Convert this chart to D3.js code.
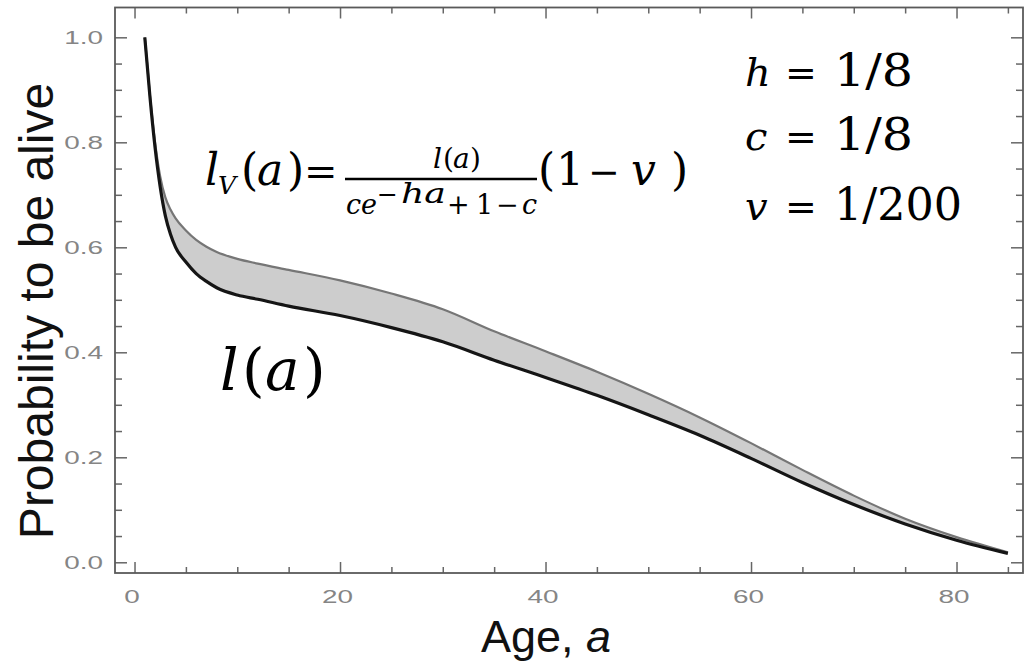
<!DOCTYPE html>
<html>
<head>
<meta charset="utf-8">
<script src="https://cdn.jsdelivr.net/npm/d3@7"></script>
<style>
  body { margin: 0; background: #fff; }
  svg { display: block; }
</style>
</head>
<body>
<div id="chart"></div>
<script>
// ages, with l(a) (black) and l_V(a) (grey upper edge)
const ages = [1, 1.5, 2, 2.5, 3, 3.5, 4, 5, 6, 7, 8, 10, 12, 15, 20, 25, 30, 35, 40, 45, 50, 55, 60, 65, 70, 75, 80, 85];
const survival = [1.0, 0.887, 0.79, 0.715, 0.66, 0.625, 0.60, 0.572, 0.550, 0.535, 0.523, 0.509, 0.501, 0.488, 0.470, 0.447, 0.420, 0.385, 0.352, 0.318, 0.281, 0.242, 0.198, 0.152, 0.110, 0.073, 0.042, 0.017];
const survivalV = [1.0, 0.89, 0.80, 0.735, 0.695, 0.672, 0.655, 0.632, 0.614, 0.601, 0.591, 0.578, 0.569, 0.557, 0.537, 0.512, 0.482, 0.440, 0.402, 0.363, 0.321, 0.276, 0.227, 0.176, 0.127, 0.083, 0.048, 0.019];

const xMajorTicks = [0, 20, 40, 60, 80];
const xMinorTicks = [5, 10, 15, 25, 30, 35, 45, 50, 55, 65, 70, 75, 85];
const yMajorTicks = [0, 0.2, 0.4, 0.6, 0.8, 1.0];
const yMinorTicks = [0.05, 0.1, 0.15, 0.25, 0.3, 0.35, 0.45, 0.5, 0.55, 0.65, 0.7, 0.75, 0.85, 0.9, 0.95];

const width = 1027, height = 663;
const frame = { left: 115, right: 1023, top: 7.5, bottom: 573 };
const labelStretch = 1.55; // tick labels in the original look stretched sideways

const svg = d3.select('#chart').append('svg')
    .attr('width', width)
    .attr('height', height);

const x = d3.scaleLinear().domain([-1.9, 86.47]).range([frame.left, frame.right]);
const y = d3.scaleLinear().domain([-0.0204, 1.0568]).range([frame.bottom, frame.top]);

const data = ages.map((a, i) => ({ a: a, l: survival[i], lv: survivalV[i] }));

// band between the two curves
const band = d3.area()
    .x(d => x(d.a))
    .y0(d => y(d.l))
    .y1(d => y(d.lv))
    .curve(d3.curveMonotoneX);

svg.append('path')
    .datum(data)
    .attr('d', band)
    .attr('fill', '#cdcdcd');

const upper = d3.line().x(d => x(d.a)).y(d => y(d.lv)).curve(d3.curveMonotoneX);
const lower = d3.line().x(d => x(d.a)).y(d => y(d.l)).curve(d3.curveMonotoneX);

svg.append('path').datum(data)
    .attr('d', upper)
    .attr('fill', 'none')
    .attr('stroke', '#767676')
    .attr('stroke-width', 2.2);

svg.append('path').datum(data)
    .attr('d', lower)
    .attr('fill', 'none')
    .attr('stroke', '#151515')
    .attr('stroke-width', 3.2);

// frame + ticks (Mathematica style, ticks pointing in on all four sides)
const tickColor = '#666';
function styleAxis(g) {
    g.select('.domain').remove();
    g.selectAll('.tick line').attr('stroke', tickColor).attr('stroke-width', 1.5);
    g.selectAll('.tick text')
        .attr('fill', '#858585')
        .style('font-family', '"Liberation Sans", Arial, sans-serif')
        .style('font-size', '18px');
}

svg.append('g').attr('transform', `translate(0,${frame.bottom})`)
    .call(d3.axisBottom(x).tickValues(xMajorTicks).tickSize(-11).tickPadding(17).tickFormat(d3.format('d')))
    .call(styleAxis)
    .selectAll('.tick text')
    .attr('dx', -3 / labelStretch)
    .attr('transform', `scale(${labelStretch},1)`);
svg.append('g').attr('transform', `translate(0,${frame.bottom})`)
    .call(d3.axisBottom(x).tickValues(xMinorTicks).tickSize(-6).tickFormat(''))
    .call(styleAxis);
svg.append('g').attr('transform', `translate(0,${frame.top})`)
    .call(d3.axisTop(x).tickValues(xMajorTicks).tickSize(-11).tickFormat(''))
    .call(styleAxis);
svg.append('g').attr('transform', `translate(0,${frame.top})`)
    .call(d3.axisTop(x).tickValues(xMinorTicks).tickSize(-6).tickFormat(''))
    .call(styleAxis);

svg.append('g').attr('transform', `translate(${frame.left},0)`)
    .call(d3.axisLeft(y).tickValues(yMajorTicks).tickSize(-12).tickPadding(12).tickFormat(d3.format('.1f')))
    .call(styleAxis)
    .selectAll('.tick text')
    .attr('x', -12 / labelStretch)
    .attr('transform', `scale(${labelStretch},1)`);
svg.append('g').attr('transform', `translate(${frame.left},0)`)
    .call(d3.axisLeft(y).tickValues(yMinorTicks).tickSize(-7).tickFormat(''))
    .call(styleAxis);
svg.append('g').attr('transform', `translate(${frame.right},0)`)
    .call(d3.axisRight(y).tickValues(yMajorTicks).tickSize(-12).tickFormat(''))
    .call(styleAxis);
svg.append('g').attr('transform', `translate(${frame.right},0)`)
    .call(d3.axisRight(y).tickValues(yMinorTicks).tickSize(-7).tickFormat(''))
    .call(styleAxis);

svg.append('rect')
    .attr('x', frame.left).attr('y', frame.top)
    .attr('width', frame.right - frame.left)
    .attr('height', frame.bottom - frame.top)
    .attr('fill', 'none')
    .attr('stroke', '#5a5a5a')
    .attr('stroke-width', 1.8);

// axis titles
const sans = '"Liberation Sans", Arial, sans-serif';
svg.append('text')
    .attr('transform', 'translate(53,311) rotate(-90)')
    .attr('text-anchor', 'middle')
    .style('font-family', sans)
    .style('font-size', '48px')
    .attr('fill', '#111')
    .text('Probability to be alive');

const xt = svg.append('text')
    .attr('x', 546).attr('y', 652)
    .attr('text-anchor', 'middle')
    .style('font-family', sans)
    .style('font-size', '45px')
    .attr('fill', '#111');
xt.append('tspan').text('Age, ');
xt.append('tspan').style('font-style', 'italic').text('a');

// math annotations
const serif = '"DejaVu Serif", "Liberation Serif", serif';
function glyph(px, py, str, size, italic, span) {
    const t = svg.append('text')
        .attr('x', px).attr('y', py)
        .style('font-family', serif)
        .style('font-size', size + 'px')
        .style('font-style', italic ? 'italic' : 'normal')
        .attr('fill', '#000')
        .text(str);
    if (span) t.attr('textLength', span).attr('lengthAdjust', 'spacingAndGlyphs');
    return t;
}

// l_V(a) = l(a) / (c e^{-ha} + 1 - c) (1 - v)
glyph(205, 185, 'l', 44, true);
glyph(218, 194, 'V', 25, true);
glyph(241, 185, '(', 44, false);
glyph(257, 185, 'a', 44, true);
glyph(287, 185, ')', 44, false);
glyph(304, 185, '=', 40, false);

svg.append('line')
    .attr('x1', 345).attr('x2', 537)
    .attr('y1', 179).attr('y2', 179)
    .attr('stroke', '#000').attr('stroke-width', 2.5);

// numerator
glyph(433, 168, 'l', 28, true);
glyph(443, 168, '(', 28, false);
glyph(453, 168, 'a', 28, true);
glyph(470, 168, ')', 28, false);

// denominator
glyph(346, 214, 'c', 27, true);
glyph(361, 214, 'e', 27, true);
glyph(377, 203, '\u2212', 25, false);
glyph(401, 203, 'ha', 27, true, 45);
glyph(447, 214, '+', 27, false);
glyph(476, 214, '1', 27, false);
glyph(496, 214, '\u2212', 27, false);
glyph(522, 214, 'c', 27, true);

glyph(538, 185, '(', 44, false);
glyph(556, 185, '1', 44, false);
glyph(588, 185, '\u2212', 38, false);
glyph(631, 185, 'v', 44, true);
glyph(671, 185, ')', 44, false);

// parameter block
glyph(745, 86, 'h', 40, true);
glyph(785, 86, '=', 38, false);
glyph(834, 86, '1/8', 44, false, 79);
glyph(745, 150, 'c', 40, true);
glyph(785, 150, '=', 38, false);
glyph(834, 150, '1/8', 44, false, 79);
glyph(745, 220, 'v', 40, true);
glyph(785, 220, '=', 38, false);
glyph(834, 220, '1/200', 44, false, 128);

// l(a) label under the curves
glyph(220, 390, 'l', 58, true);
glyph(242, 390, '(', 58, false);
glyph(265, 390, 'a', 58, true);
glyph(303, 390, ')', 58, false);
</script>
</body>
</html>
